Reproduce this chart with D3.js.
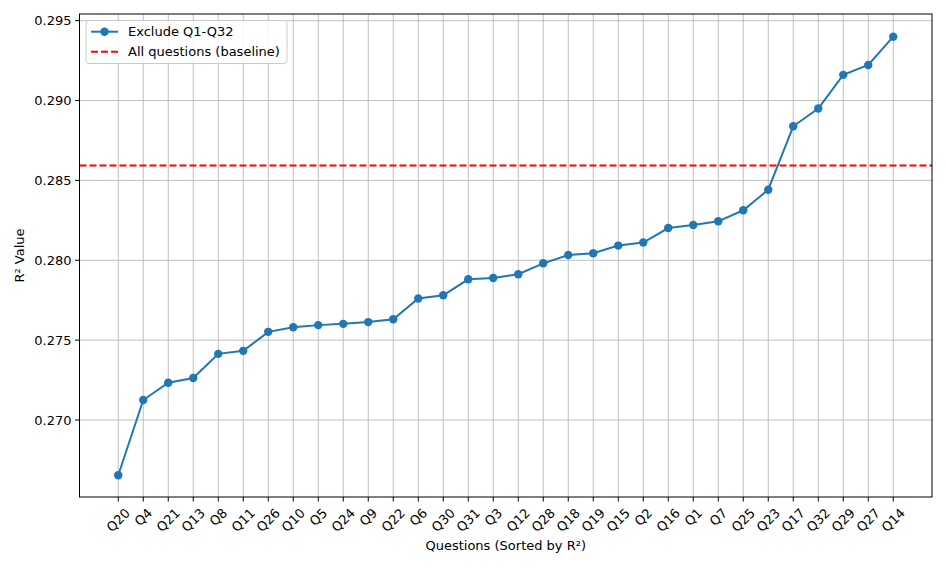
<!DOCTYPE html>
<html><head><meta charset="utf-8">
<script src="https://cdn.jsdelivr.net/npm/d3@7"></script>
<style>body{margin:0;background:#fff}text{font-family:"DejaVu Sans",sans-serif;fill:#000}</style>
</head><body><svg id="c" width="947" height="568"></svg>
<script>
const questions = ["Q20","Q4","Q21","Q13","Q8","Q11","Q26","Q10","Q5","Q24","Q9","Q22","Q6","Q30","Q31","Q3","Q12","Q28","Q18","Q19","Q15","Q2","Q16","Q1","Q7","Q25","Q23","Q17","Q32","Q29","Q27","Q14"];
const r2Values = [0.26654,0.27125,0.27233,0.27263,0.27414,0.27433,0.27552,0.27581,0.27594,0.27602,0.27613,0.27631,0.27761,0.27781,0.27881,0.27889,0.27913,0.27981,0.28033,0.28044,0.28092,0.28111,0.28202,0.28221,0.28244,0.28313,0.28442,0.28839,0.2895,0.29161,0.29223,0.294];
const baseline = 0.28594;
const yTicks = [0.270,0.275,0.280,0.285,0.290,0.295];
const seriesLabel = "Exclude Q1-Q32";
const baselineLabel = "All questions (baseline)";

const svg = d3.select("#c");
const L=79.5, R=932, T=14, B=497;
const n = questions.length;
const x = d3.scaleLinear().domain([-0.05*(n-1), (n-1)*1.05]).range([L,R]);
const y = d3.scaleLinear().domain([0.270,0.295]).range([420,20.7]);

// grid
const g = svg.append("g");
g.selectAll(".vg").data(questions).join("line")
  .attr("x1",(d,i)=>x(i)).attr("x2",(d,i)=>x(i)).attr("y1",T).attr("y2",B)
  .attr("stroke","#b0b0b0").attr("stroke-width",0.8);
g.selectAll(".hg").data(yTicks).join("line")
  .attr("x1",L).attr("x2",R).attr("y1",d=>y(d)).attr("y2",d=>y(d))
  .attr("stroke","#b0b0b0").attr("stroke-width",0.8);

// baseline
svg.append("line").attr("x1",L).attr("x2",R).attr("y1",y(baseline)).attr("y2",y(baseline))
  .attr("stroke","#ff0000").attr("stroke-width",2).attr("stroke-dasharray","7,3");

// series
const line = d3.line().x((d,i)=>x(i)).y(d=>y(d));
svg.append("path").datum(r2Values).attr("d",line).attr("fill","none")
  .attr("stroke","#1f77b4").attr("stroke-width",2);
svg.selectAll(".pt").data(r2Values).join("circle")
  .attr("cx",(d,i)=>x(i)).attr("cy",d=>y(d)).attr("r",4.2).attr("fill","#1f77b4");

// spines
svg.append("rect").attr("x",L).attr("y",T).attr("width",R-L).attr("height",B-T)
  .attr("fill","none").attr("stroke","#000").attr("stroke-width",1);

// y ticks
yTicks.forEach(t=>{
  svg.append("line").attr("x1",L-4.5).attr("x2",L).attr("y1",y(t)).attr("y2",y(t)).attr("stroke","#000");
  svg.append("text").attr("x",L-8).attr("y",y(t)).attr("text-anchor","end")
    .attr("dominant-baseline","central").attr("font-size",13).text(t.toFixed(3));
});
// x ticks
questions.forEach((q,i)=>{
  const xi=x(i);
  svg.append("line").attr("x1",xi).attr("x2",xi).attr("y1",B).attr("y2",B+4.5).attr("stroke","#000");
  const t = svg.append("text").attr("font-size",13).attr("text-anchor","middle")
    .attr("dominant-baseline","central").text(q);
  const w = t.node().getComputedTextLength();
  const h = 13;
  const bh = (w+h)/Math.SQRT2;
  const cy = B + 9 + bh/2;
  t.attr("transform",`translate(${xi},${cy}) rotate(-45)`);
});

// axis labels
svg.append("text").attr("x",(L+R)/2).attr("y",550).attr("text-anchor","middle").attr("font-size",13).text("Questions (Sorted by R²)");
svg.append("text").attr("transform",`translate(24,${(T+B)/2}) rotate(-90)`).attr("text-anchor","middle").attr("font-size",13).text("R² Value");

// legend
const lg = svg.append("g");
lg.append("rect").attr("x",86).attr("y",20.5).attr("width",201).attr("height",43).attr("rx",3)
  .attr("fill","#fff").attr("fill-opacity",0.8).attr("stroke","#cccccc");
lg.append("line").attr("x1",91).attr("x2",118).attr("y1",31.7).attr("y2",31.7).attr("stroke","#1f77b4").attr("stroke-width",2);
lg.append("circle").attr("cx",104.5).attr("cy",31.7).attr("r",4.2).attr("fill","#1f77b4");
lg.append("text").attr("x",128).attr("y",31.7).attr("dominant-baseline","central").attr("font-size",13).text(seriesLabel);
lg.append("line").attr("x1",91).attr("x2",118).attr("y1",51.7).attr("y2",51.7).attr("stroke","#ff0000").attr("stroke-width",2).attr("stroke-dasharray","7,3");
lg.append("text").attr("x",128).attr("y",51.7).attr("dominant-baseline","central").attr("font-size",13).text(baselineLabel);
</script></body></html>
